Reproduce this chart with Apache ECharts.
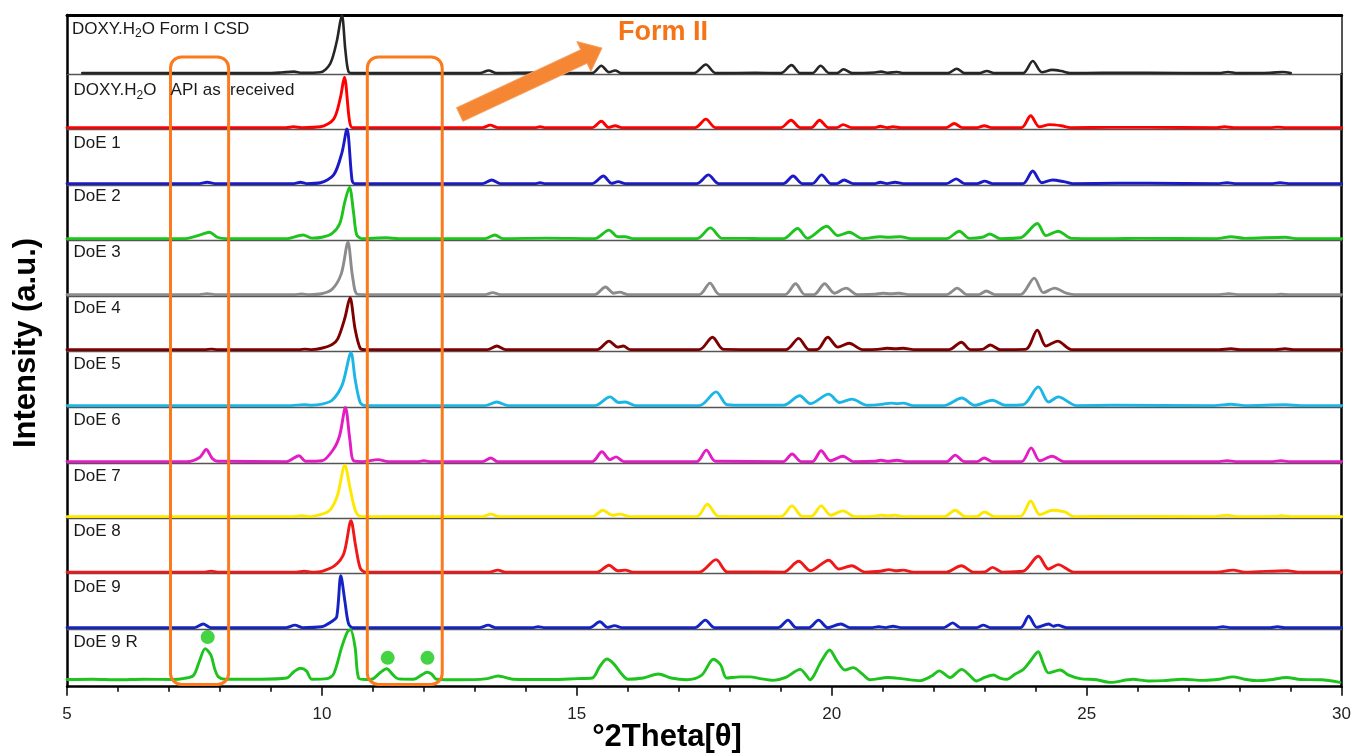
<!DOCTYPE html>
<html>
<head>
<meta charset="utf-8">
<script src="https://cdn.jsdelivr.net/npm/echarts/dist/echarts.min.js"></script>
<style>
html,body{margin:0;padding:0;background:#fff;}
#chart{width:1354px;height:755px;}
</style>
</head>
<body>
<div id="chart"></div>
<script>
// ---------------- DATA (2theta, relative intensity 0-100 of panel) ----------------
const traceLabels = ['DOXY.H₂O Form I CSD', 'DOXY.H₂O   API as  received', 'DoE 1', 'DoE 2', 'DoE 3', 'DoE 4', 'DoE 5', 'DoE 6', 'DoE 7', 'DoE 8', 'DoE 9', 'DoE 9 R'];
const traceColors = ['#262626', '#ff0000', '#1a1ac8', '#1ec31e', '#8c8c8c', '#7f0000', '#1cb6e6', '#e31cc4', '#ffe800', '#f01818', '#1424c4', '#1ec31e'];

const csdForm1 = [[5.3,1.5],[8.9,1.5],[9.2,2.5],[9.45,4],[9.6,2],[9.97,3],[10.16,17],[10.29,55],[10.39,100],[10.46,40],[10.52,4],[10.6,1.5],[13.1,1.5],[13.27,6],[13.42,1.5],[14.2,2.5],[14.3,1.5],[15.3,1.5],[15.48,14],[15.63,3],[15.75,6],[15.88,1.5],[17.3,1.5],[17.53,16],[17.72,1.5],[18.5,2],[19.0,1.5],[19.21,15],[19.38,1.5],[19.62,1.5],[19.78,14],[19.95,1.5],[20.1,1.5],[20.23,8],[20.4,1.5],[20.85,2.5],[20.97,4],[21.1,2],[21.28,3.5],[21.4,1.5],[22.28,1.5],[22.45,9],[22.6,1.5],[22.9,1.5],[23.04,5],[23.18,1.5],[23.75,1.5],[23.94,22],[24.12,3],[24.32,7],[24.5,5],[24.68,1.5],[25.3,2],[25.8,2],[26.2,2],[27.6,1.5],[27.77,3.5],[27.95,1.5],[28.6,2],[28.85,3.5],[29.0,1.5]];
const apiAsReceived = [[5,2.5],[9.3,2.5],[9.44,4],[9.6,2.5],[9.97,4],[10.23,18],[10.36,56],[10.44,94],[10.54,15],[10.6,2.5],[13.15,2.5],[13.3,7],[13.45,2.5],[14.2,2.5],[14.28,4],[14.36,2.5],[15.3,2.5],[15.48,14],[15.62,3],[15.75,6],[15.88,2.5],[17.32,2.5],[17.53,18],[17.72,2.5],[19.0,2.5],[19.2,16],[19.38,2.5],[19.6,2.5],[19.76,16],[19.93,2.5],[20.1,2.5],[20.22,8],[20.38,2.5],[20.85,2.5],[20.95,5],[21.08,2.5],[21.2,4],[21.35,2.5],[22.25,2.5],[22.4,10],[22.56,2.5],[22.85,2.5],[22.99,6],[23.13,2.5],[23.72,2.5],[23.9,24],[24.07,4],[24.27,8],[24.5,6],[24.68,2.5],[25.5,3],[26.2,3],[27.55,2.5],[27.7,4],[27.88,2.5],[28.6,2.5],[28.75,3.5],[28.9,2.5],[30,2.5]];
const doe1 = [[5,2.5],[7.6,2.5],[7.75,5],[7.9,2.5],[9.45,2.5],[9.58,5],[9.7,2.5],[9.97,4],[10.23,18],[10.39,57],[10.49,100],[10.59,9],[10.64,2.5],[13.15,2.5],[13.33,9],[13.5,2.5],[14.2,2.5],[14.28,4],[14.36,2.5],[15.3,2.5],[15.52,16],[15.68,3],[15.81,6],[15.95,2.5],[17.35,2.5],[17.58,18],[17.78,2.5],[19.05,2.5],[19.24,16],[19.42,2.5],[19.62,2.5],[19.8,18],[19.98,2.5],[20.1,2.5],[20.24,9],[20.42,2.5],[20.85,2.5],[20.95,5],[21.08,2.5],[21.24,5],[21.4,2.5],[22.25,2.5],[22.44,11],[22.6,2.5],[22.85,2.5],[23.0,7],[23.15,2.5],[23.75,2.5],[23.94,25],[24.12,4],[24.33,9],[24.55,6],[24.72,2.5],[25.6,3],[26.2,3],[27.6,2.5],[27.75,4],[27.9,2.5],[28.65,2.5],[28.79,4],[28.95,2.5],[30,2.5]];
const doe2 = [[5,2.5],[6,2.5],[7.3,2.5],[7.6,9],[7.79,14],[7.95,5],[8.1,2.5],[9.3,2.5],[9.63,9],[9.8,3.5],[10.0,5],[10.2,12],[10.35,30],[10.45,70],[10.54,96],[10.62,50],[10.68,10],[10.78,2.5],[11.27,4],[11.5,2.5],[13.2,2.5],[13.39,9],[13.55,2.5],[14.39,3.5],[15.35,2.5],[15.63,18],[15.8,6],[15.95,6],[16.1,2.5],[17.35,2.5],[17.62,22],[17.85,3],[18.3,3],[18.6,2.5],[19.05,2.5],[19.33,21],[19.52,3],[19.9,25],[20.12,8],[20.34,14],[20.6,2.5],[20.95,6],[21.1,5],[21.35,6],[21.55,2.5],[22.25,2.5],[22.5,16],[22.7,3],[22.95,5],[23.1,11],[23.3,2.5],[23.7,4],[24.03,30],[24.2,8],[24.44,16],[24.7,3],[25.5,2.5],[26.0,3],[27.55,2.5],[27.83,6],[28.1,3],[28.9,5],[29.1,2.5],[30,2.5]];
const doe3 = [[5,2.5],[7.6,2.5],[7.75,4],[7.9,2.5],[9.45,2.5],[9.6,3.5],[9.75,2.5],[9.99,4],[10.2,12],[10.38,40],[10.51,96],[10.6,35],[10.7,3],[11,2.5],[13.2,2.5],[13.35,6],[13.5,2.5],[15.35,2.5],[15.56,16],[15.72,5],[15.84,7],[16.0,2.5],[17.4,2.5],[17.61,23],[17.8,2.5],[19.08,2.5],[19.29,22],[19.47,2.5],[19.65,2.5],[19.86,22],[20.05,5],[20.28,14],[20.5,2.5],[20.85,3],[21.0,5],[21.15,4],[21.32,5],[21.5,2.5],[22.25,2.5],[22.46,14],[22.65,2.5],[22.88,2.5],[23.03,9],[23.2,2.5],[23.7,2.5],[23.97,32],[24.15,6],[24.37,14],[24.6,5],[24.75,2.5],[27.6,2.5],[27.79,4],[27.95,2.5],[28.7,2.5],[28.81,3],[28.95,2.5],[30,2.5]];
const doe4 = [[5,2.5],[7.7,2.5],[7.83,3.5],[7.95,2.5],[9.55,2.5],[9.67,3.5],[9.8,2.5],[9.99,5],[10.2,12],[10.31,22],[10.45,60],[10.55,97],[10.65,40],[10.75,5],[10.85,2.5],[13.25,2.5],[13.43,9],[13.6,2.5],[15.4,2.5],[15.63,18],[15.8,7],[15.91,9],[16.05,2.5],[17.4,2.5],[17.66,25],[17.88,3],[19.1,2.5],[19.35,23],[19.55,2.5],[19.72,3],[19.92,25],[20.12,7],[20.34,14],[20.6,2.5],[20.9,3],[21.08,5],[21.25,4],[21.4,5],[21.6,2.5],[22.3,2.5],[22.54,16],[22.72,2.5],[22.95,3],[23.11,11],[23.3,2.5],[23.8,3],[24.03,38],[24.2,9],[24.43,18],[24.7,2.5],[27.6,2.5],[27.83,4],[28.0,2.5],[28.7,2.5],[28.89,4],[29.05,2.5],[30,2.5]];
const doe5 = [[5,2.5],[9.4,2.5],[9.65,4],[9.8,3],[10.0,5],[10.2,12],[10.4,40],[10.57,97],[10.65,50],[10.75,8],[10.85,2.5],[13.2,2.5],[13.43,9],[13.65,2.5],[15.35,2.5],[15.65,18],[15.82,8],[15.95,9],[16.15,2.5],[17.4,2.5],[17.73,27],[17.95,4],[18.3,3],[19.05,3],[19.37,20],[19.58,6],[19.94,23],[20.15,8],[20.39,14],[20.7,3],[21.0,5],[21.16,7],[21.28,6],[21.4,7],[21.6,2.5],[22.2,2.5],[22.55,16],[22.8,3],[23.15,12],[23.4,3],[23.75,4],[24.05,36],[24.25,9],[24.44,18],[24.8,2.5],[25.5,3],[27.5,2.5],[27.83,5],[28.1,2.5],[28.9,4],[29.2,2.5],[30,2.5]];
const doe6 = [[5,2.5],[7.35,2.5],[7.6,10],[7.73,24],[7.85,8],[7.95,3],[9.3,2.5],[9.55,13],[9.68,3],[10.0,4],[10.23,25],[10.35,50],[10.46,99],[10.55,40],[10.62,4],[10.8,2.5],[11.1,6],[11.3,2.5],[11.9,2.5],[12.0,4],[12.1,2.5],[13.15,2.5],[13.31,9],[13.45,2.5],[15.3,2.5],[15.49,20],[15.65,6],[15.77,11],[15.92,2.5],[17.35,2.5],[17.54,23],[17.72,3],[19.05,2.5],[19.22,16],[19.4,2.5],[19.62,2.5],[19.79,22],[19.97,4],[20.22,12],[20.42,2.5],[20.85,3],[20.96,5],[21.1,3],[21.28,5],[21.45,2.5],[22.25,2.5],[22.42,14],[22.6,2.5],[22.85,2.5],[22.99,9],[23.15,2.5],[23.72,2.5],[23.91,27],[24.08,4],[24.32,12],[24.55,2.5],[27.6,2.5],[27.75,4],[27.92,2.5],[28.65,2.5],[28.81,4],[28.95,2.5],[30,2.5]];
const doe7 = [[5,2.5],[9.45,2.5],[9.6,4],[9.75,2.5],[9.83,3],[10.14,13],[10.3,40],[10.45,96],[10.55,55],[10.65,15],[10.75,3],[10.9,2.5],[13.15,2.5],[13.31,7],[13.48,2.5],[15.3,2.5],[15.51,14],[15.7,5],[15.84,7],[16.05,2.5],[17.35,2.5],[17.56,25],[17.78,3],[19.0,2.5],[19.22,22],[19.42,3],[19.6,3],[19.79,22],[19.98,5],[20.22,13],[20.45,2.5],[20.8,3],[20.96,5],[21.1,4],[21.24,5],[21.4,2.5],[22.2,2.5],[22.42,14],[22.62,2.5],[22.85,3],[22.99,11],[23.2,2.5],[23.7,3],[23.9,31],[24.08,6],[24.33,14],[24.57,11],[24.75,2.5],[25.5,3],[27.5,2.5],[27.75,5],[27.95,2.5],[28.7,3],[28.81,4],[29.0,2.5],[30,2.5]];
const doe8 = [[5,2.5],[7.7,2.5],[7.83,4],[7.95,2.5],[9.5,2.5],[9.65,4],[9.8,2.5],[10.0,4],[10.25,14],[10.43,36],[10.57,95],[10.66,50],[10.75,10],[10.85,2.5],[13.28,2.5],[13.45,6],[13.6,2.5],[15.4,2.5],[15.63,15],[15.8,5],[15.95,6],[16.1,2.5],[17.4,2.5],[17.73,25],[17.95,3],[18.4,3],[19.05,2.5],[19.35,22],[19.58,5],[19.94,24],[20.14,8],[20.39,14],[20.65,2.5],[20.95,4],[21.12,7],[21.25,5],[21.4,6],[21.6,2.5],[22.25,2.5],[22.54,14],[22.78,2.5],[23.0,3],[23.15,11],[23.35,2.5],[23.75,4],[24.05,31],[24.25,8],[24.44,16],[24.75,2.5],[27.55,2.5],[27.87,6],[28.1,2.5],[28.93,5],[29.15,2.5],[30,2.5]];
const doe9 = [[5,2.5],[7.5,2.5],[7.67,9],[7.82,2.5],[9.3,2.5],[9.47,7],[9.62,2.5],[9.99,4],[10.2,14],[10.29,22],[10.37,96],[10.45,50],[10.52,10],[10.6,2.5],[13.1,2.5],[13.26,7],[13.4,2.5],[14.15,2.5],[14.24,4],[14.35,2.5],[15.25,2.5],[15.45,13],[15.6,3],[15.74,6],[15.88,2.5],[17.32,2.5],[17.52,16],[17.7,2.5],[18.95,2.5],[19.14,16],[19.3,2.5],[19.55,2.5],[19.74,16],[19.92,2.5],[20.18,9],[20.35,2.5],[20.8,2.5],[20.92,4],[21.05,2.5],[21.2,5],[21.35,2.5],[22.2,2.5],[22.37,11],[22.52,2.5],[22.85,2.5],[22.97,7],[23.1,2.5],[23.7,2.5],[23.86,23],[24.02,3],[24.25,9],[24.35,5],[24.43,7],[24.6,2.5],[27.55,2.5],[27.67,4],[27.8,2.5],[28.6,2.5],[28.74,4],[28.88,2.5],[30,2.5]];
const doe9R = [[5,12.5],[5.5,13],[6,12],[6.5,13],[7.08,12.5],[7.3,14.5],[7.48,19.5],[7.6,45],[7.71,66],[7.82,55],[7.9,30],[7.97,17],[8.1,13],[8.8,13],[9.31,15],[9.45,26],[9.58,32],[9.7,27],[9.8,13],[10.1,14],[10.23,22],[10.39,69],[10.5,95],[10.56,99],[10.65,69],[10.72,15],[10.85,12.5],[10.98,13],[11.15,25],[11.27,31],[11.4,20],[11.5,13.5],[11.8,13],[11.95,20],[12.06,25],[12.15,22],[12.25,13],[12.7,12],[13.2,13.5],[13.46,18.5],[13.75,13],[14.5,12.5],[15.0,14],[15.3,15],[15.45,35],[15.59,48],[15.72,40],[15.88,22],[16.0,13],[16.3,15],[16.6,22],[16.85,15],[17.15,12],[17.45,20],[17.68,47.5],[17.82,38],[17.94,15],[18.2,17],[18.4,17],[18.6,14],[18.85,11],[19.1,16],[19.38,30],[19.5,20],[19.57,12],[19.8,45],[19.96,63.6],[20.1,45],[20.26,29],[20.42,33],[20.6,22],[20.75,12],[21.1,16],[21.4,13.5],[21.73,10.5],[21.95,18],[22.11,27.5],[22.32,16],[22.55,30],[22.7,20],[22.84,10],[23.0,16],[23.17,20.3],[23.3,15],[23.43,12.8],[23.6,22],[23.76,30],[23.9,45],[24.05,60.7],[24.15,40],[24.25,24],[24.48,29],[24.65,20],[24.87,14],[25.2,12],[25.46,7.5],[25.91,12.8],[26.2,10],[26.5,10.5],[26.89,12.8],[27.3,11],[27.6,13],[27.87,17],[28.1,13],[28.33,10.5],[28.6,12],[28.92,16],[29.2,12.5],[29.6,12],[29.97,7.5]];

const traces = [csdForm1, apiAsReceived, doe1, doe2, doe3, doe4, doe5, doe6, doe7, doe8, doe9, doe9R];
const xMin = 5, xMax = 30, xInterval = 5;
const form2Markers = [[7.76, 86], [11.29, 50], [12.07, 50]];
const highlightRanges = [[7.03, 8.17], [10.89, 12.36]];
const xAxisTitle = '°2Theta[θ]';
const yAxisTitle = 'Intensity (a.u.)';
const annotationText = 'Form II';

// ---------------- LAYOUT ----------------
const FONT = '"Liberation Sans", Arial, Helvetica, sans-serif';
const panelEdges = [15, 74, 129, 185, 240, 296, 351, 407, 463, 518, 573.5, 629, 686.7];
const labelCenters = [29.3, 90.7, 143.3, 196.7, 252.3, 308.3, 364.3, 420, 476, 531.7, 587.7, 642.7];
const N = traces.length;
const last = N - 1;

const grids = [], xAxes = [], yAxes = [], series = [];
for (let i = 0; i < N; i++) {
  grids.push({left: 67, right: 12.3, top: panelEdges[i], height: panelEdges[i + 1] - panelEdges[i]});
  const isLast = i === last;
  xAxes.push({
    type: 'value', gridIndex: i, min: xMin, max: xMax, interval: xInterval,
    axisLine: {show: true, onZero: false, lineStyle: {color: isLast ? '#000' : '#555', width: isLast ? 2.5 : 1.3}},
    axisTick: {show: isLast, length: 9, lineStyle: {color: '#000', width: 1.5}},
    minorTick: {show: isLast, splitNumber: 5, length: 5, lineStyle: {color: '#000', width: 1.5}},
    axisLabel: {show: isLast, margin: 19, fontSize: 17, color: '#222', fontFamily: FONT},
    splitLine: {show: false}, minorSplitLine: {show: false}
  });
  yAxes.push({
    type: 'value', gridIndex: i, min: 0, max: 100, position: 'left',
    axisLine: {show: true, onZero: false, lineStyle: {color: '#000', width: 2.5}},
    axisTick: {show: false}, axisLabel: {show: false}, splitLine: {show: false}
  });
  yAxes.push({
    type: 'value', gridIndex: i, min: 0, max: 100, position: 'right',
    axisLine: {show: true, onZero: false, lineStyle: {color: i === 0 ? '#555' : '#000', width: i === 0 ? 2 : 2.5}},
    axisTick: {show: false}, axisLabel: {show: false}, splitLine: {show: false}
  });
  series.push({
    type: 'line', name: traceLabels[i], xAxisIndex: i, yAxisIndex: 2 * i,
    data: traces[i], showSymbol: false, symbol: 'none', smooth: 0.3, clip: false,
    lineStyle: {color: traceColors[i], width: i === 0 ? 2.6 : 2.9, join: 'round', cap: 'round'},
    itemStyle: {color: traceColors[i]}, z: 3, animation: false
  });
}
// top frame line of the first panel
xAxes.push({
  type: 'value', gridIndex: 0, min: xMin, max: xMax, position: 'top',
  axisLine: {show: true, onZero: false, lineStyle: {color: '#000', width: 3}},
  axisTick: {show: false}, axisLabel: {show: false}, splitLine: {show: false}
});
series.push({
  type: 'scatter', xAxisIndex: last, yAxisIndex: 2 * last, data: form2Markers,
  symbol: 'circle', symbolSize: 14, itemStyle: {color: '#14c814'}, z: 6, animation: false
});

const chart = echarts.init(document.getElementById('chart'), null, {renderer: 'canvas'});
chart.setOption({
  backgroundColor: '#fff', animation: false,
  grid: grids, xAxis: xAxes, yAxis: yAxes, series: series
});

// ---------------- ANNOTATIONS ----------------
const px = (g, x, y) => chart.convertToPixel({xAxisIndex: g, yAxisIndex: 2 * g}, [x, y]);
const graphics = [];

traceLabels.forEach((lab, i) => {
  const parts = lab.split('₂');
  let rich = '';
  parts.forEach((p, k) => { rich += '{t|' + p + '}'; if (k < parts.length - 1) rich += '{s|2}'; });
  graphics.push({
    type: 'text', x: i === 0 ? 72 : 73.5, y: labelCenters[i], z: 20,
    style: {
      text: rich, verticalAlign: 'middle', align: 'left',
      rich: {
        t: {fontSize: 17, fontFamily: FONT, fill: '#1a1a1a', lineHeight: 21, verticalAlign: 'middle'},
        s: {fontSize: 12, fontFamily: FONT, fill: '#1a1a1a', lineHeight: 12, verticalAlign: 'bottom'}
      }
    }
  });
});

highlightRanges.forEach(r => {
  const tl = px(0, r[0], 29);
  const br = px(last, r[1], 4);
  graphics.push({
    type: 'rect', z: 15,
    shape: {x: tl[0], y: tl[1], width: br[0] - tl[0], height: br[1] - tl[1], r: 11},
    style: {fill: 'none', stroke: '#fb7a1c', lineWidth: 3}
  });
});

// arrow
(function () {
  const S = [459.7, 114.5], T = [602, 48];
  const dx = T[0] - S[0], dy = T[1] - S[1], L = Math.hypot(dx, dy);
  const u = [dx / L, dy / L], n = [-u[1], u[0]];
  const headLen = 20, headHalf = 16.5, shaftHalf = 7.5;
  const H = [T[0] - u[0] * headLen, T[1] - u[1] * headLen];
  const pts = [
    [S[0] + n[0] * shaftHalf, S[1] + n[1] * shaftHalf],
    [H[0] + n[0] * shaftHalf, H[1] + n[1] * shaftHalf],
    [H[0] + n[0] * headHalf, H[1] + n[1] * headHalf],
    T,
    [H[0] - n[0] * headHalf, H[1] - n[1] * headHalf],
    [H[0] - n[0] * shaftHalf, H[1] - n[1] * shaftHalf],
    [S[0] - n[0] * shaftHalf, S[1] - n[1] * shaftHalf]
  ];
  graphics.push({
    type: 'polygon', z: 16, shape: {points: pts},
    style: {fill: '#f58634', stroke: '#f7a062', lineWidth: 1}
  });
})();

graphics.push({
  type: 'text', x: 663, y: 33, z: 20,
  style: {text: annotationText, align: 'center', verticalAlign: 'middle',
    font: 'bold 27px ' + FONT, fill: '#f57417'}
});
graphics.push({
  type: 'text', x: 667, y: 737, z: 20,
  style: {text: xAxisTitle, align: 'center', verticalAlign: 'middle',
    font: 'bold 31px ' + FONT, fill: '#000'}
});
graphics.push({
  type: 'text', x: 26, y: 343, z: 20, rotation: Math.PI / 2,
  style: {text: yAxisTitle, align: 'center', verticalAlign: 'middle',
    font: 'bold 31px ' + FONT, fill: '#000'}
});

chart.setOption({graphic: {elements: graphics}});
</script>
</body>
</html>
